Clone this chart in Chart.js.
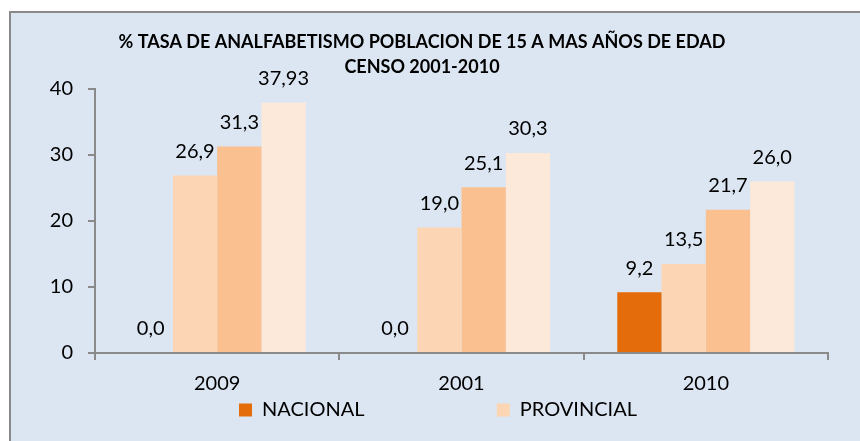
<!DOCTYPE html>
<html>
<head>
<meta charset="utf-8">
<script src="https://cdn.jsdelivr.net/npm/chart.js@4.4.1/dist/chart.umd.min.js"></script>
<style>
  html, body { margin: 0; padding: 0; background: #fff; overflow: hidden; }
  #frame { position: absolute; left: 9px; top: 11px; width: 900px; height: 500px;
           border: 2px solid #8a8a8a; background: #dce6f2; }
  #myChart { position: absolute; left: 0; top: 0; }
</style>
</head>
<body>
<div id="frame"></div>
<canvas id="myChart" width="860" height="441"></canvas>
<script>
// Datos del grafico
var categorias = ['2009', '2001', '2010'];
var nacional = [0.0, 0.0, 9.2];
var provincial = [26.9, 19.0, 13.5];
var serie3 = [31.3, 25.1, 21.7];
var serie4 = [37.93, 30.3, 26.0];
var nombres = ['NACIONAL', 'PROVINCIAL', 'Serie 3', 'Serie 4'];
var yTicks = [0, 10, 20, 30, 40];
var titulo = ['% TASA DE ANALFABETISMO POBLACION DE 15 A MAS AÑOS DE EDAD', 'CENSO 2001-2010'];

var FONT = 'Lato';
var FS = 20;
var gris = '#8a8a8a';

// 37,93 con dos decimales, los demas con uno
function fmt(v) {
    var d = Math.abs(v * 10 - Math.round(v * 10)) < 1e-9 ? 1 : 2;
    return v.toFixed(d).replace('.', ',');
}

// Medidas para ubicar la leyenda como en Excel (hueco grande entre items)
var mctx = document.createElement('canvas').getContext('2d');
mctx.font = FS + 'px ' + FONT;
var legPad = 10;
var nbsp = '\u00A0';
var nW = mctx.measureText(nombres[0]).width;
var spW = mctx.measureText(nbsp).width;
var nSp = Math.max(0, Math.round((259 - legPad - 13 - FS / 2 - nW) / spW));
var nombreNac = nombres[0] + nbsp.repeat(nSp);
var w1 = 13 + FS / 2 + mctx.measureText(nombreNac).width;
var w2 = 13 + FS / 2 + mctx.measureText(nombres[1]).width;
var lineW = w1 + legPad + w2 + legPad;
var padL = Math.round(2 * 239 - legPad - 828 + lineW);
var padR = 860 - 828;

// etiquetas de valores arriba de cada barra
var etiquetas = {
    id: 'etiquetas',
    afterDatasetsDraw(chart) {
        var ctx = chart.ctx;
        ctx.save();
        ctx.font = FS + 'px ' + FONT;
        ctx.fillStyle = '#000';
        ctx.textAlign = 'center';
        ctx.textBaseline = 'middle';
        chart.data.datasets.forEach(function (ds, i) {
            chart.getDatasetMeta(i).data.forEach(function (el, j) {
                ctx.fillText(fmt(ds.data[j]), el.x, el.y - 24);
            });
        });
        ctx.restore();
    }
};

// el titulo esta un poco a la izquierda del centro
var moverTitulo = {
    id: 'moverTitulo',
    afterLayout(chart) {
        var t = chart.titleBlock;
        var dx = 422 - (t.left + t.right) / 2;
        t.left += dx;
        t.right += dx;
    }
};

var ctx = document.getElementById('myChart').getContext('2d');
var myChart = new Chart(ctx, {
    type: 'bar',
    data: {
        labels: categorias,
        datasets: [
            { label: nombres[0], data: nacional, backgroundColor: '#e46c0a' },
            { label: nombres[1], data: provincial, backgroundColor: '#fcd5b5' },
            { label: nombres[2], data: serie3, backgroundColor: '#fac090' },
            { label: nombres[3], data: serie4, backgroundColor: '#fde9d9' }
        ]
    },
    options: {
        responsive: false,
        animation: false,
        events: [],
        datasets: { bar: { categoryPercentage: 0.725, barPercentage: 1.0 } },
        layout: { padding: { left: padL, right: padR, top: 0, bottom: 11 } },
        scales: {
            x: {
                afterFit: function (s) { s.height = 37; },
                grid: { drawOnChartArea: false, drawTicks: true, tickLength: 7, color: gris, lineWidth: 2 },
                border: { color: gris, width: 2 },
                ticks: { color: '#000', padding: 12, font: { family: FONT, size: FS } }
            },
            y: {
                min: 0,
                max: 40,
                afterFit: function (s) { s.width = 95 - padL; },
                afterBuildTicks: function (s) { s.ticks = yTicks.map(function (v) { return { value: v }; }); },
                grid: { drawOnChartArea: false, drawTicks: true, tickLength: 7, color: gris, lineWidth: 2 },
                border: { color: gris, width: 2 },
                ticks: { color: '#000', padding: 15, font: { family: FONT, size: FS } }
            }
        },
        plugins: {
            title: {
                display: true,
                text: titulo,
                color: '#000',
                font: { family: FONT, size: 18, weight: 'bold', lineHeight: '25px' },
                padding: { top: 29.5, bottom: 9.5 }
            },
            legend: {
                position: 'bottom',
                labels: {
                    boxWidth: 13,
                    boxHeight: 13,
                    padding: legPad,
                    color: '#000',
                    font: { family: FONT, size: FS },
                    filter: function (item) { return item.datasetIndex < 2; },
                    generateLabels: function (chart) {
                        var items = Chart.defaults.plugins.legend.labels.generateLabels(chart);
                        items.forEach(function (it) {
                            it.lineWidth = 0;
                            if (it.datasetIndex === 0) it.text = nombreNac;
                        });
                        return items;
                    }
                }
            },
            tooltip: { enabled: false }
        }
    },
    plugins: [etiquetas, moverTitulo]
});
</script>
</body>
</html>
